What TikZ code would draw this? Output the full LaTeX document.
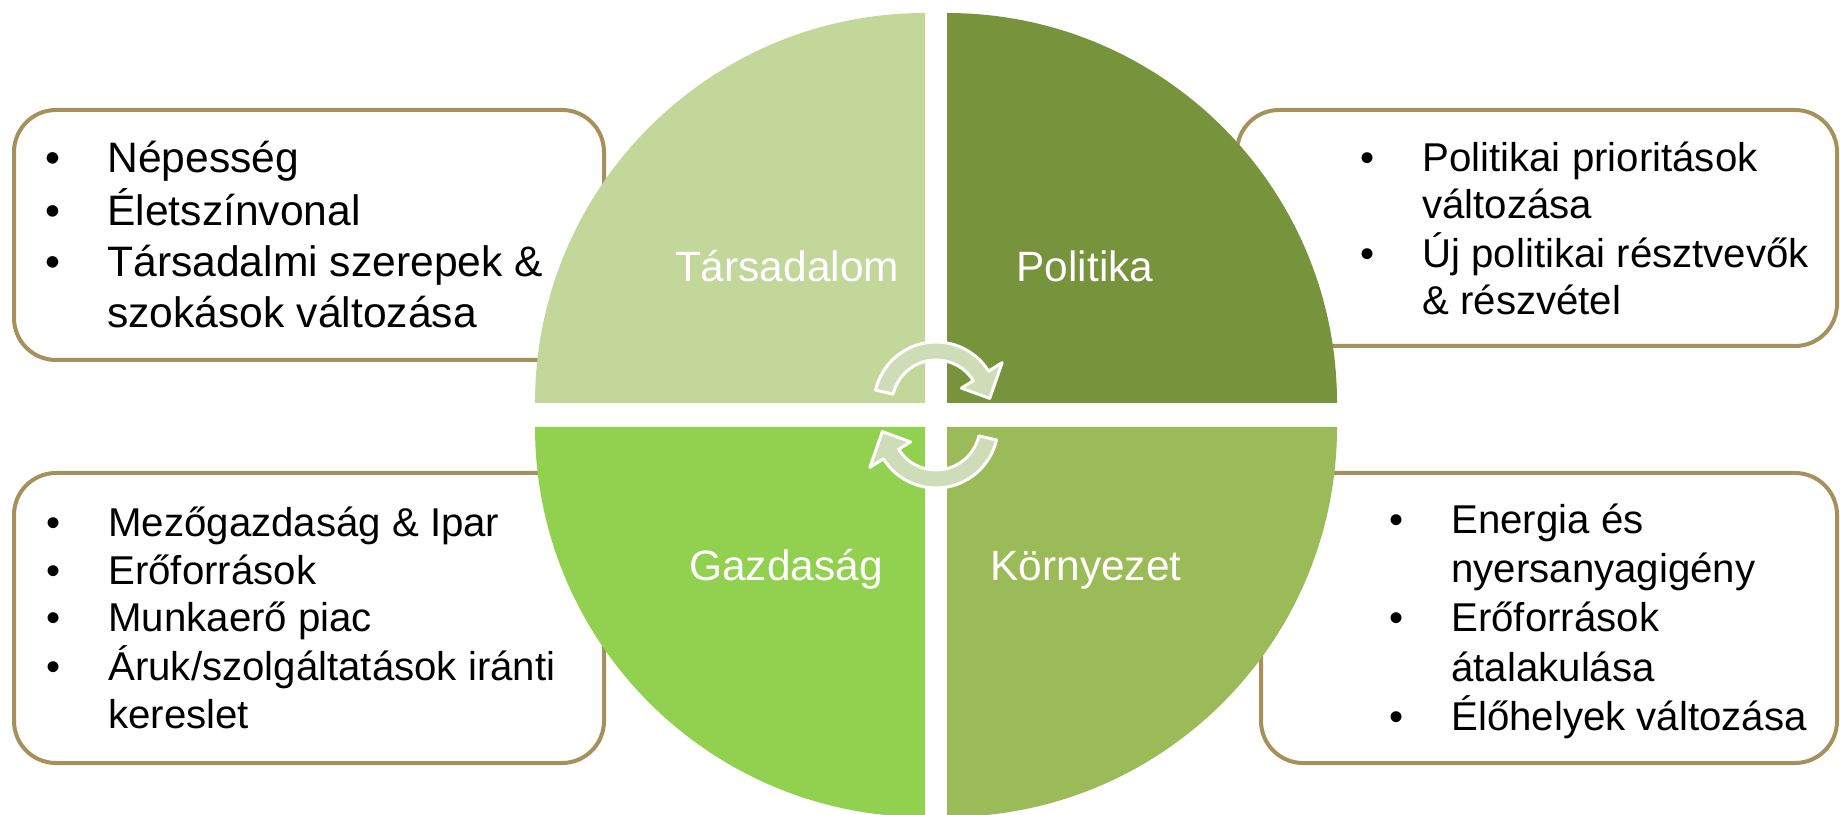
\documentclass[tikz,border=0pt]{standalone}
\usepackage{fontspec}
\setmainfont{Liberation Sans}
\definecolor{boxline}{RGB}{166,145,92}
\definecolor{qsoc}{RGB}{196,215,155}
\definecolor{qpol}{RGB}{119,147,60}
\definecolor{qeco}{RGB}{146,208,80}
\definecolor{qenv}{RGB}{155,187,89}
\definecolor{cyclefill}{RGB}{206,220,184}
% bullet list: #1 = font size, #2 = line pitch, #3 = rows
\newcommand{\blist}[3]{\fontsize{#1}{#2}\selectfont\begin{tabular}[t]{@{}p{31pt}@{}l@{}}#3\end{tabular}}
% one circular arrow around the origin of the current scope
\newcommand{\cyclepath}{%
  (167:31pt) arc[start angle=167, end angle=32, radius=31pt]
  -- (32:39pt) -- (6:27pt) -- (32:15pt) -- (32:22pt)
  arc[start angle=32, end angle=167, radius=22pt] -- cycle}
\tikzset{
  infobox/.style={draw=boxline, line width=2pt, fill=white, rounded corners=21pt},
  listtext/.style={anchor=base west, inner sep=0pt, text=black},
  quadlabel/.style={anchor=base, inner sep=0pt, text=white, font=\fontsize{21.2pt}{25pt}\selectfont},
  cyclearrow/.style={fill=cyclefill, draw=white, line width=1.5pt, line join=round}
}
\begin{document}
\begin{tikzpicture}[x=0.5pt, y=0.5pt]
  \path[use as bounding box] (0,0) rectangle (1840,814);

  % rounded text boxes (behind the circle)
  \draw[infobox] (14,454) rectangle (604,704);
  \draw[infobox] (1237,468) rectangle (1837,704);
  \draw[infobox] (14,51) rectangle (604,341);
  \draw[infobox] (1261,51) rectangle (1837,341);

  % four quadrants of the circle
  \fill[qsoc] (925,411) -- (535,411) arc[start angle=180, end angle=90, radius=195pt] -- cycle;
  \fill[qpol] (947,411) -- (947,801) arc[start angle=90, end angle=0, radius=195pt] -- cycle;
  \fill[qeco] (925,387) -- (925,-3) arc[start angle=270, end angle=180, radius=195pt] -- cycle;
  \fill[qenv] (947,387) -- (1337,387) arc[start angle=0, end angle=-90, radius=195pt] -- cycle;

  % quadrant labels
  \node[quadlabel] (soc) at (787,532) {Társadalom};
  \node[quadlabel] (pol) at (1085,532) {Politika};
  \node[quadlabel] (eco) at (786,234) {Gazdaság};
  \node[quadlabel] (env) at (1086,234) {Környezet};

  % circular arrows in the middle
  \begin{scope}[shift={(936,410)}]
    \draw[cyclearrow] \cyclepath;
  \end{scope}
  \begin{scope}[shift={(936,388)}, rotate=180]
    \draw[cyclearrow] \cyclepath;
  \end{scope}

  % list texts
  \node[listtext] (socl) at (45,641) {\blist{21.3pt}{25.5pt}{%
    • & Népesség\\
    • & Életszínvonal\\
    • & Társadalmi szerepek \&\\
      & szokások változása}};
  \node[listtext] (poll) at (1360,642) {\blist{20.1pt}{23.5pt}{%
    • & Politikai prioritások\\
      & változása\\
    • & Új politikai résztvevők\\
      & \& részvétel}};
  \node[listtext] (ecol) at (46,277) {\blist{20.1pt}{23.7pt}{%
    • & Mezőgazdaság \& Ipar\\
    • & Erőforrások\\
    • & Munkaerő piac\\
    • & Áruk/szolgáltatások iránti\\
      & kereslet}};
  \node[listtext] (envl) at (1389,280) {\blist{20.1pt}{24.5pt}{%
    • & Energia és\\
      & nyersanyagigény\\
    • & Erőforrások\\
      & átalakulása\\
    • & Élőhelyek változása}};
\end{tikzpicture}
\end{document}
